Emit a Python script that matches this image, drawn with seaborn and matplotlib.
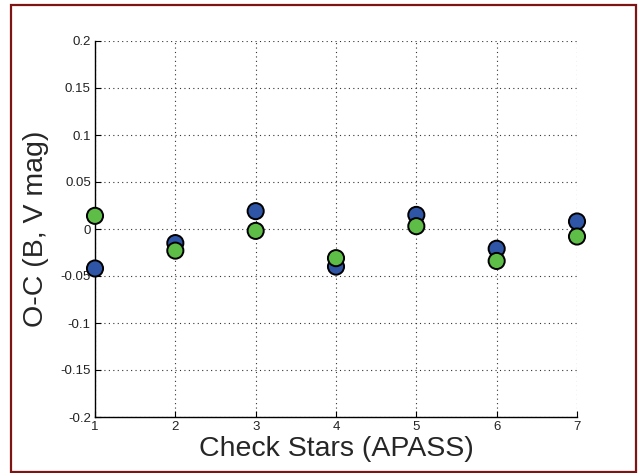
import matplotlib
matplotlib.use("Agg")
import matplotlib.pyplot as plt
import seaborn as sns
import pandas as pd
from matplotlib.patches import Rectangle
from matplotlib.ticker import FuncFormatter

stars = [1, 2, 3, 4, 5, 6, 7]
oc_b = [-0.042, -0.015, 0.019, -0.040, 0.015, -0.021, 0.008]
oc_v = [0.014, -0.023, -0.002, -0.031, 0.003, -0.034, -0.008]
x_ticks = [1, 2, 3, 4, 5, 6, 7]
y_ticks = [-0.2, -0.15, -0.1, -0.05, 0, 0.05, 0.1, 0.15, 0.2]

sns.set_style("white")
plt.rcParams["font.family"] = ["Liberation Sans", "DejaVu Sans"]
plt.rcParams["axes.unicode_minus"] = False

df = pd.DataFrame({
    "star": stars + stars,
    "oc": oc_b + oc_v,
    "band": ["B"] * len(stars) + ["V"] * len(stars),
})

fig = plt.figure(figsize=(6.38, 4.73), dpi=100)
fig.patch.set_facecolor("white")
ax = fig.add_axes([95 / 638, 1 - 417 / 473, (577 - 95) / 638, (417 - 41) / 473])

sns.scatterplot(data=df, x="star", y="oc", hue="band",
                palette={"B": "#2F56A6", "V": "#5EBD47"},
                s=135, edgecolor="black", linewidth=1.4, ax=ax,
                legend=False, clip_on=False, zorder=5)

ax.set_xlim(1, 7)
ax.set_ylim(-0.2, 0.2)
ax.set_xticks(x_ticks)
ax.set_yticks(y_ticks)
ax.yaxis.set_major_formatter(FuncFormatter(lambda v, p: ("%g" % round(v, 3))))
ax.grid(True, linestyle=(0, (1, 3)), color="#333333", linewidth=0.8)
ax.set_axisbelow(True)
for s in ["top", "right"]:
    ax.spines[s].set_visible(False)
for s in ["left", "bottom"]:
    ax.spines[s].set_color("black")
    ax.spines[s].set_linewidth(1.0)
ax.tick_params(direction="in", length=4, width=0.8, colors="black",
               labelsize=9.5, labelcolor="#222222", pad=3,
               bottom=True, left=True)
ax.set_xlabel("Check Stars (APASS)", fontsize=20.5, labelpad=2)
ax.set_ylabel("O-C (B, V mag)", fontsize=20.5, labelpad=8)

fig.patches.append(Rectangle((11 / 638, 1 - 472 / 473), (636 - 11) / 638, (472 - 5) / 473,
                             transform=fig.transFigure, fill=False,
                             edgecolor="#7F1414", linewidth=1.6, zorder=10))

fig.savefig("out.png", dpi=100)
